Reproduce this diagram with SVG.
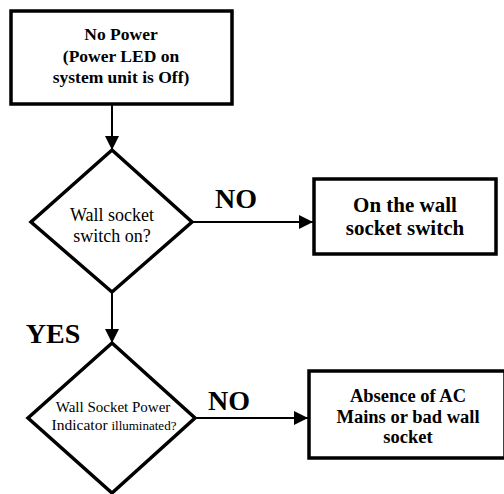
<svg xmlns="http://www.w3.org/2000/svg" width="504" height="494" viewBox="0 0 504 494">
<style>
.box{fill:#fff;stroke:#000;stroke-width:3.5}
.ln{fill:none;stroke:#000;stroke-width:2}
text{font-family:"Times New Roman",Times,"Liberation Serif","Tinos","Noto Serif","DejaVu Serif",serif;fill:#000;text-anchor:middle}
.b{font-weight:bold}
.lbl{font-weight:bold;font-size:28px}
</style>
<defs>
<marker id="ah" viewBox="0 0 14 14" refX="14" refY="7" markerWidth="14" markerHeight="14" markerUnits="userSpaceOnUse" orient="auto">
<path d="M0,0 L14,7 L0,14 Z" fill="#000"/>
</marker>
</defs>
<g id="connectors">
<line class="ln" x1="112" y1="104" x2="112" y2="150" marker-end="url(#ah)"/>
<line class="ln" x1="192" y1="222" x2="313" y2="222" marker-end="url(#ah)"/>
<line class="ln" x1="112" y1="292" x2="112" y2="343" marker-end="url(#ah)"/>
<line class="ln" x1="195" y1="418" x2="308" y2="418" marker-end="url(#ah)"/>
<text class="lbl" x="236" y="208">NO</text>
<text class="lbl" x="53" y="343">YES</text>
<text class="lbl" x="229" y="410">NO</text>
</g>
<g id="start">
<rect class="box" x="11" y="11" width="221" height="93"/>
<text class="b" font-size="17.5" x="121" y="40">No Power</text>
<text class="b" font-size="17.5" x="121" y="62">(Power LED on</text>
<text class="b" font-size="17.5" x="121" y="83">system unit is Off)</text>
</g>
<g id="decision1">
<polygon class="box" points="112,150 192,222 112,292 31,222"/>
<text font-size="18" x="112" y="221">Wall socket</text>
<text font-size="18" x="112" y="242">switch on?</text>
</g>
<g id="action1">
<rect class="box" x="314" y="179" width="182" height="75"/>
<text class="b" font-size="21" x="405" y="212">On the wall</text>
<text class="b" font-size="21" x="405" y="235">socket switch</text>
</g>
<g id="decision2">
<polygon class="box" points="112,343 195,418 112,493 28,418"/>
<text font-size="15" x="113" y="412">Wall Socket Power</text>
<text font-size="15.5" x="114" y="430">Indicator <tspan font-size="13">illuminated?</tspan></text>
</g>
<g id="action2">
<rect class="box" x="309" y="371" width="196" height="87"/>
<text class="b" font-size="18.5" x="408" y="402">Absence of AC</text>
<text class="b" font-size="18.5" x="408" y="423">Mains or bad wall</text>
<text class="b" font-size="18.5" x="408" y="443">socket</text>
</g>
</svg>
